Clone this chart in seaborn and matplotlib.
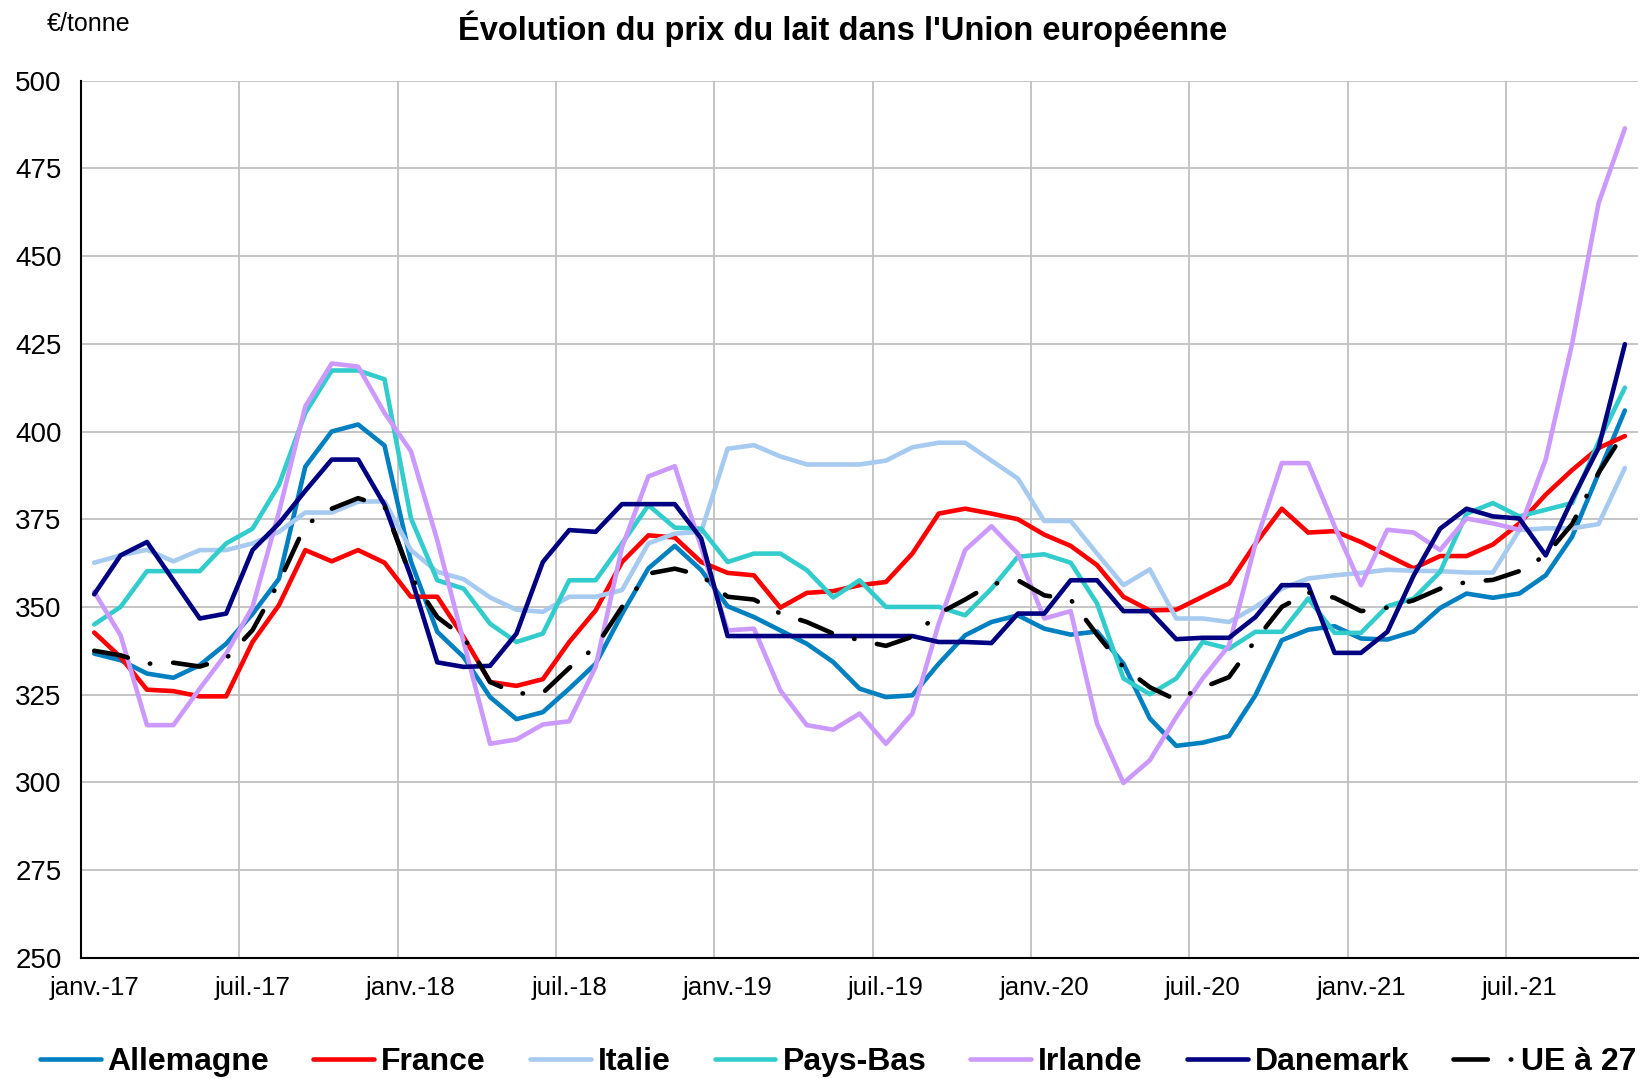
import matplotlib
matplotlib.use("Agg")
import numpy as np
import pandas as pd
import matplotlib.pyplot as plt
import seaborn as sns

# ------------------------------------------------------------------
# Data : prix du lait (EUR/tonne), mensuel janv.-17 -> nov.-21
# ------------------------------------------------------------------
PAYS = ["Allemagne", "France", "Italie", "Pays-Bas", "Irlande", "Danemark", "UE à 27"]

allemagne = [336.7, 334.8, 331.0, 329.8, 333.4, 339.5, 348.0, 358.0, 390.0, 400.0, 402.0, 396.0,
             363.0, 342.9, 335.7, 324.3, 318.0, 320.0, 326.7, 333.8, 348.0, 361.0, 367.4, 360.5,
             350.2, 347.1, 343.3, 339.5, 334.3, 326.7, 324.3, 324.8, 333.8, 341.9, 345.7, 347.6,
             343.8, 342.1, 343.0, 333.8, 318.2, 310.4, 311.3, 313.2, 324.8, 340.5, 343.5, 344.5,
             341.0, 340.7, 343.0, 349.7, 353.8, 352.6, 353.8, 359.0, 370.0, 388.0, 406.0]
france = [342.7, 335.7, 326.4, 326.0, 324.5, 324.5, 340.0, 350.5, 366.2, 363.0, 366.2, 362.6,
          352.9, 352.9, 341.4, 328.6, 327.5, 329.4, 340.0, 349.0, 362.8, 370.4, 369.8, 362.8,
          359.7, 359.0, 349.8, 354.0, 354.5, 356.2, 357.1, 365.2, 376.6, 378.0, 376.6, 375.0,
          370.6, 367.4, 361.9, 352.9, 349.0, 349.2, 352.9, 356.7, 368.0, 378.0, 371.2, 371.6,
          368.5, 364.7, 361.0, 364.5, 364.5, 367.8, 373.8, 382.0, 389.0, 395.3, 398.7]
italie = [362.6, 364.7, 366.3, 363.0, 366.2, 366.2, 368.1, 371.4, 376.9, 376.9, 380.0, 380.1,
          366.2, 360.0, 357.9, 352.7, 349.2, 348.6, 352.9, 352.9, 354.8, 368.1, 370.9, 371.4,
          395.1, 396.1, 392.9, 390.6, 390.6, 390.6, 391.7, 395.5, 396.8, 396.8, 391.7, 386.6,
          374.5, 374.5, 365.2, 356.2, 360.7, 346.7, 346.7, 345.7, 350.0, 355.2, 358.1, 359.0,
          359.7, 360.6, 360.3, 360.2, 359.8, 359.8, 371.9, 372.4, 372.4, 373.6, 389.6]
pays_bas = [345.0, 350.0, 360.2, 360.2, 360.2, 368.1, 372.3, 384.8, 405.3, 417.4, 417.4, 414.9,
            375.3, 357.6, 355.2, 345.2, 340.0, 342.4, 357.6, 357.6, 368.1, 379.0, 372.6, 372.3,
            362.8, 365.2, 365.2, 360.5, 352.7, 357.6, 350.0, 350.0, 350.0, 347.6, 355.2, 364.3,
            365.0, 362.6, 351.0, 329.6, 325.1, 329.6, 340.0, 338.1, 342.9, 342.9, 352.4, 342.6,
            342.6, 350.2, 352.4, 360.0, 376.6, 379.6, 375.8, 377.7, 379.6, 397.0, 412.5]
irlande = [354.3, 341.9, 316.3, 316.3, 326.7, 336.7, 350.0, 377.0, 407.2, 419.4, 418.5, 405.3,
           394.4, 369.0, 340.0, 311.0, 312.2, 316.5, 317.4, 332.9, 367.0, 387.2, 390.1, 367.0,
           343.3, 343.8, 326.2, 316.3, 315.0, 319.6, 311.0, 319.6, 345.2, 366.2, 373.0, 365.2,
           346.7, 348.8, 316.7, 299.8, 306.3, 318.6, 329.6, 339.0, 368.0, 391.0, 391.0, 373.0,
           356.2, 372.0, 371.2, 366.2, 375.2, 373.8, 372.0, 392.0, 425.0, 465.0, 486.4]
danemark = [353.6, 364.7, 368.5, 357.6, 346.7, 348.1, 366.2, 373.8, 383.1, 392.0, 392.0, 379.1,
            358.6, 334.2, 332.9, 333.2, 342.4, 362.8, 371.9, 371.4, 379.3, 379.3, 379.3, 369.5,
            341.7, 341.7, 341.7, 341.7, 341.7, 341.7, 341.7, 341.7, 340.0, 340.0, 339.7, 348.1,
            348.1, 357.6, 357.6, 348.8, 348.8, 340.8, 341.2, 341.2, 347.1, 356.2, 356.2, 336.9,
            336.9, 342.9, 359.0, 372.3, 378.0, 375.8, 375.2, 364.7, 380.6, 395.3, 424.9]
ue27 = [337.5, 336.2, 333.8, 334.1, 333.0, 335.3, 343.4, 357.0, 373.3, 378.0, 381.0, 378.6,
        358.6, 347.1, 341.4, 328.6, 325.3, 325.5, 332.6, 338.6, 350.0, 359.5, 360.9, 359.0,
        352.9, 352.1, 348.1, 345.7, 342.4, 340.5, 338.9, 341.5, 348.1, 352.1, 356.5, 357.6,
        353.3, 352.1, 342.1, 332.8, 327.1, 323.5, 327.0, 330.0, 340.5, 350.0, 354.1, 352.6,
        348.8, 349.8, 351.9, 355.2, 357.1, 357.7, 360.2, 364.7, 373.6, 388.2, 400.0]

SERIES = [allemagne, france, italie, pays_bas, irlande, danemark, ue27]

TICK_LABELS = ["janv.-17", "juil.-17", "janv.-18", "juil.-18", "janv.-19",
               "juil.-19", "janv.-20", "juil.-20", "janv.-21", "juil.-21"]

COULEURS = {
    "Allemagne": "#0080C0",
    "France": "#FF0000",
    "Italie": "#A6CAF0",
    "Pays-Bas": "#33CCCC",
    "Irlande": "#CC99FF",
    "Danemark": "#000080",
    "UE à 27": "#000000",
}
DASHES = {p: "" for p in PAYS}
DASHES["UE à 27"] = (7.5, 5, 0.1, 5)

# ------------------------------------------------------------------
# Long format for seaborn
# ------------------------------------------------------------------
frames = []
for nom, vals in zip(PAYS, SERIES):
    frames.append(pd.DataFrame({"mois": np.arange(len(vals)), "prix": vals, "pays": nom}))
df = pd.concat(frames, ignore_index=True)
n_mois = len(allemagne)

# ------------------------------------------------------------------
# Plot
# ------------------------------------------------------------------
sns.set_style("white")
plt.rcParams["font.family"] = ["Liberation Sans", "DejaVu Sans"]
plt.rcParams["text.color"] = "black"
plt.rcParams["xtick.color"] = "black"
plt.rcParams["ytick.color"] = "black"
plt.rcParams["axes.labelcolor"] = "black"

fig = plt.figure(figsize=(16.43, 10.79), dpi=100)
ax = fig.add_axes([0.0493, 0.1124, 0.9477, 0.8128])

sns.lineplot(
    data=df, x="mois", y="prix", hue="pays", style="pays",
    hue_order=PAYS, style_order=PAYS, palette=COULEURS, dashes=DASHES,
    linewidth=3.3, legend=False, estimator=None, sort=False, ax=ax,
)
for line in ax.get_lines():
    line.set_dash_capstyle("round")
    line.set_solid_joinstyle("round")

ax.set_xlim(-0.5, n_mois - 0.5)
ax.set_ylim(250, 500)
ax.set_yticks(np.arange(250, 501, 25))

# labels centred on the category, tick marks / grid on category borders
ax.set_xticks(np.arange(0, n_mois, 6))
ax.set_xticklabels(TICK_LABELS)
ax.set_xticks(np.arange(-0.5, n_mois, 6), minor=True)
ax.tick_params(axis="x", which="major", length=0, pad=13, labelsize=18.5, labelcolor="black")
ax.tick_params(axis="x", which="minor", length=5, width=1.5, color="black", direction="out")
ax.tick_params(axis="y", length=5, width=1.5, color="black", direction="out", pad=9,
               labelsize=20, labelcolor="black")

ax.grid(False)
ax.yaxis.grid(True, color="#C0C0C0", linewidth=1.3)
ax.xaxis.grid(True, which="minor", color="#C0C0C0", linewidth=1.3)
ax.set_axisbelow(True)

for side in ["top", "right"]:
    ax.spines[side].set_visible(False)
for side in ["left", "bottom"]:
    ax.spines[side].set_color("black")
    ax.spines[side].set_linewidth(1.5)

ax.set_xlabel("")
ax.set_ylabel("")

fig.text(0.513, 0.973, "Évolution du prix du lait dans l'Union européenne",
         ha="center", va="center", fontsize=23.5, fontweight="bold", color="black")
fig.text(0.0286, 0.978, "€/tonne", ha="left", va="center", fontsize=18, color="black")

handles = ax.get_lines()[:len(PAYS)]
leg = fig.legend(
    handles, PAYS, loc="center left", bbox_to_anchor=(0.0243, 0.0158),
    ncol=len(PAYS), frameon=False, prop={"weight": "bold", "size": 23},
    handlelength=1.9, handletextpad=0.22, columnspacing=1.38,
    borderpad=0, borderaxespad=0,
)
for txt in leg.get_texts():
    txt.set_color("black")

fig.savefig("out.png", dpi=100)
plt.close(fig)
